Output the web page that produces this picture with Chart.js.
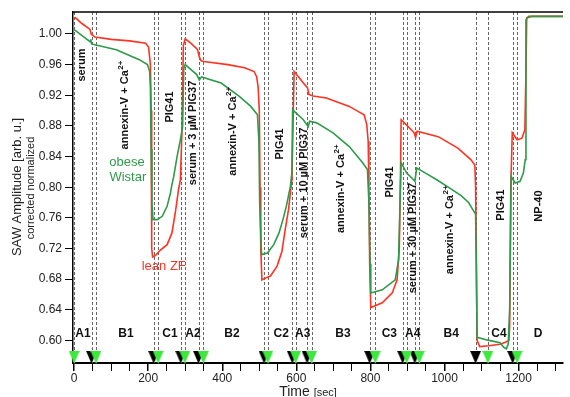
<!DOCTYPE html>
<html lang="en">
<head>
<meta charset="utf-8">
<title>SAW amplitude – lean ZF vs obese Wistar</title>
<script src="https://cdn.jsdelivr.net/npm/chart.js@4.4.0/dist/chart.umd.min.js"></script>
<style>
  html,body{margin:0;padding:0;background:#fff;}
  #wrap{width:570px;height:397px;}
</style>
</head>
<body>
<div id="wrap"><canvas id="saw"></canvas></div>
<script>
/* ---------- data ---------- */
const leanT = [0,4,20,43,46,56,100,150,193,201,206,208,209,210,212,220,233,251,264,273,
  282,287,291,295,300,315,333,338,343,350,415,460,486,493,497,500,502,504,507,515,
  530,548,561,570,579,585,588,591,594,606,619,630,634,645,681,743,770,783,790,794,
  796,798,801,832,859,872,878,881,883,900,918,922,926,983,1036,1071,1082,1084,1086,1088,
  1095,1120,1150,1166,1174,1176,1179,1183,1196,1209,1217,1220,1222,1235,1320];
const leanY = [1.021,1.021,1.014,1.006,1.000,0.996,0.993,0.991,0.988,0.983,0.960,0.900,0.800,0.720,0.709,0.711,0.718,0.725,0.740,0.766,
  0.797,0.810,0.871,0.985,0.9935,0.988,0.980,0.970,0.965,0.964,0.960,0.956,0.951,0.944,0.930,0.900,0.800,0.720,0.679,0.681,
  0.684,0.697,0.716,0.745,0.771,0.797,0.810,0.880,0.951,0.944,0.936,0.930,0.921,0.919,0.9165,0.9055,0.898,0.8946,0.882,0.860,
  0.800,0.700,0.643,0.649,0.662,0.679,0.720,0.810,0.888,0.880,0.871,0.865,0.873,0.866,0.851,0.836,0.829,0.800,0.700,0.600,
  0.592,0.593,0.595,0.598,0.600,0.620,0.800,0.871,0.862,0.864,0.875,0.950,1.021,1.023,1.023];

const obeseT = [0,10,43,45,47,56,114,176,198,204,206,208,210,213,224,238,251,260,264,269,
  278,287,293,296,300,331,338,344,397,446,477,495,499,501,506,522,539,553,564,573,
  584,588,590,619,632,636,655,699,743,779,792,796,799,801,832,867,876,880,883,898,
  916,920,925,950,978,1010,1045,1065,1076,1084,1086,1088,1120,1150,1160,1167,1172,1176,1180,1191,
  1204,1213,1218,1220,1227,1320];
const obeseY = [1.0056,1.002,0.990,0.993,0.987,0.986,0.9795,0.9665,0.960,0.951,0.930,0.850,0.780,0.7576,0.7576,0.762,0.775,0.792,0.803,0.814,
  0.840,0.862,0.879,0.955,0.960,0.947,0.940,0.944,0.936,0.9185,0.9055,0.8946,0.860,0.780,0.712,0.714,0.725,0.740,0.758,0.775,
  0.8015,0.819,0.901,0.888,0.879,0.886,0.884,0.871,0.853,0.832,0.823,0.780,0.700,0.662,0.666,0.679,0.705,0.780,0.832,0.8185,
  0.810,0.8076,0.825,0.818,0.810,0.800,0.789,0.780,0.771,0.765,0.700,0.604,0.600,0.597,0.591,0.589,0.595,0.640,0.814,0.8055,
  0.8076,0.8185,0.836,1.0187,1.023,1.023];

// injection markers (sec)
const blackMarks = [47,215,288,336,513,589,629,798,887,920,1084,1184];
const greenMarks = [0,59,227,299,349,523,598,641,813,898,932,1117,1196];
const markLevel = 0.578;

// phase names along the bottom
const phaseNames = ['A1','B1','C1','A2','B2','C2','A3','B3','C3','A4','B4','C4','D'];
const phaseT     = [24,140,259,321,426,559,617,726,851,914,1018,1147,1253];
const phaseLevel = 0.6093;

// rotated step labels (text, time, vertical centre)
const stepText = ['serum','annexin-V + Ca^2+','PIG41','serum + 3 µM PIG37','annexin-V + Ca^2+','PIG41',
  'serum + 10 µM PIG37','annexin-V + Ca^2+','PIG41','serum + 30 µM PIG37','annexin-V + Ca^2+','PIG41','NP-40'];
const stepT = [21,136,258,322,428,556,620,721,854,915,1014,1152,1256];
const stepY = [0.9595,0.9073,0.9047,0.8708,0.873,0.8565,0.8055,0.798,0.8068,0.7336,0.7444,0.7767,0.7754];

// axes
const xTicks  = [0,50,100,150,200,250,300,350,400,450,500,550,600,650,700,750,800,850,900,950,1000,1050,1100,1150,1200,1250,1300];
const xLabels = [0,200,400,600,800,1000,1200];
const yTicks  = [0.60,0.64,0.68,0.72,0.76,0.80,0.84,0.88,0.92,0.96,1.00];

/* ---------- colours / fonts ---------- */
const RED = '#ff3322', GREEN = '#2e9a4a', TRI_GREEN = '#3de83d';
const FONT = '"Liberation Sans", Arial, sans-serif';

function triangleImg(color){
  const c = document.createElement('canvas');
  c.width = 11; c.height = 13;
  const g = c.getContext('2d');
  g.fillStyle = color;
  g.beginPath(); g.moveTo(0,0); g.lineTo(11,0); g.lineTo(5.5,13); g.closePath(); g.fill();
  return c;
}

function vertLabel(ctx, text, px, py){
  const [main, sup] = text.split('^');
  const f1 = 'bold 11px ' + FONT, f2 = 'bold 8px ' + FONT;
  ctx.font = f1; const w1 = ctx.measureText(main).width;
  let w2 = 0;
  if (sup){ ctx.font = f2; w2 = ctx.measureText(sup).width + 0.5; }
  ctx.save();
  ctx.translate(px, py); ctx.rotate(-Math.PI/2);
  ctx.textAlign = 'left'; ctx.textBaseline = 'middle';
  const s = -(w1 + w2)/2;
  ctx.font = f1; ctx.fillText(main, s, 0);
  if (sup){ ctx.font = f2; ctx.fillText(sup, s + w1 + 0.5, -4); }
  ctx.restore();
}

const overlay = {
  id:'overlay',
  beforeDatasetsDraw(chart){
    const {ctx, chartArea:a, scales:{x}} = chart;
    ctx.save();
    ctx.strokeStyle = '#666'; ctx.lineWidth = 1; ctx.setLineDash([3,2]);
    blackMarks.concat(greenMarks).forEach(t=>{
      const px = Math.round(x.getPixelForValue(t)) + 0.5;
      ctx.beginPath(); ctx.moveTo(px, a.top); ctx.lineTo(px, a.bottom); ctx.stroke();
    });
    ctx.restore();
  },
  afterDraw(chart){
    const {ctx, chartArea:a, scales:{x, y}} = chart;
    ctx.save();
    // top frame line
    ctx.strokeStyle = '#000'; ctx.lineWidth = 1.5;
    ctx.beginPath(); ctx.moveTo(a.left, a.top); ctx.lineTo(a.right, a.top); ctx.stroke();

    // step labels
    ctx.fillStyle = '#111';
    stepText.forEach((s,i)=> vertLabel(ctx, s, x.getPixelForValue(stepT[i]), y.getPixelForValue(stepY[i])));

    // phase names
    ctx.font = 'bold 12px ' + FONT; ctx.textAlign = 'center'; ctx.textBaseline = 'middle';
    phaseNames.forEach((s,i)=> ctx.fillText(s, x.getPixelForValue(phaseT[i]), y.getPixelForValue(phaseLevel)));

    // series names
    ctx.font = '13px ' + FONT;
    ctx.fillStyle = GREEN;
    ctx.fillText('obese', x.getPixelForValue(143), y.getPixelForValue(0.8325));
    ctx.fillText('Wistar', x.getPixelForValue(145), y.getPixelForValue(0.813));
    ctx.fillStyle = RED;
    ctx.fillText('lean ZF', x.getPixelForValue(242), y.getPixelForValue(0.697));

    // axis titles
    ctx.fillStyle = '#222';
    ctx.save(); ctx.translate(17, 187); ctx.rotate(-Math.PI/2);
    ctx.font = '13px ' + FONT; ctx.fillText('SAW Amplitude [arb. u.]', 0, 0);
    ctx.restore();
    ctx.save(); ctx.translate(31, 188); ctx.rotate(-Math.PI/2);
    ctx.font = '11px ' + FONT; ctx.fillText('corrected normalized', 0, 0);
    ctx.restore();

    ctx.textAlign = 'left'; ctx.textBaseline = 'alphabetic';
    ctx.font = '14px ' + FONT; const wT = ctx.measureText('Time ').width;
    ctx.font = '11px ' + FONT; const wS = ctx.measureText('[sec]').width;
    const x0 = 308 - (wT + wS)/2;
    ctx.font = '14px ' + FONT; ctx.fillText('Time ', x0, 396);
    ctx.font = '11px ' + FONT; ctx.fillText('[sec]', x0 + wT, 396);
    ctx.restore();
  }
};

new Chart(document.getElementById('saw'), {
  type:'line',
  data:{
    datasets:[
      {
        label:'green marks',
        data:greenMarks.map(t=>({x:t, y:markLevel})),
        showLine:false, pointStyle:triangleImg(TRI_GREEN), pointRadius:6, clip:false, order:0
      },
      {
        label:'black marks',
        data:blackMarks.map(t=>({x:t, y:markLevel})),
        showLine:false, pointStyle:triangleImg('#000'), pointRadius:6, clip:false, order:1
      },
      {
        label:'obese Wistar',
        data:obeseT.map((t,i)=>({x:t, y:obeseY[i]})),
        borderColor:GREEN, borderWidth:1.6, pointRadius:0, tension:0, order:2
      },
      {
        label:'lean ZF',
        data:leanT.map((t,i)=>({x:t, y:leanY[i]})),
        borderColor:RED, borderWidth:1.6, pointRadius:0, tension:0, order:3
      }
    ]
  },
  options:{
    responsive:true,
    maintainAspectRatio:false,
    animation:false,
    devicePixelRatio:1,
    layout:{padding:{top:12, right:0, left:0, bottom:0}},
    plugins:{legend:{display:false}, tooltip:{enabled:false}},
    scales:{
      x:{
        type:'linear', min:-3, max:1320,
        afterBuildTicks:s=>{ s.ticks = xTicks.map(v=>({value:v})); },
        afterFit:s=>{ s.height = 34; },
        ticks:{
          autoSkip:false, maxRotation:0, padding:0, color:'#222',
          font:{family:FONT, size:12},
          callback:v=> xLabels.includes(v) ? String(v) : ''
        },
        grid:{
          drawOnChartArea:false, tickLength:8, color:'#000',
          lineWidth:c=> (c.tick && c.tick.value % 200 === 0) ? 1.5 : 1
        },
        border:{color:'#000', width:2}
      },
      y:{
        min:0.5705, max:1.0287,
        afterBuildTicks:s=>{ s.ticks = yTicks.map(v=>({value:v})); },
        afterFit:s=>{ s.width = 73; },
        ticks:{
          padding:3, color:'#222', font:{family:FONT, size:12},
          callback:v=> Number(v).toFixed(2)
        },
        grid:{drawOnChartArea:false, tickLength:8, color:'#000'},
        border:{color:'#000', width:1.5}
      }
    }
  },
  plugins:[overlay]
});
</script>
</body>
</html>
